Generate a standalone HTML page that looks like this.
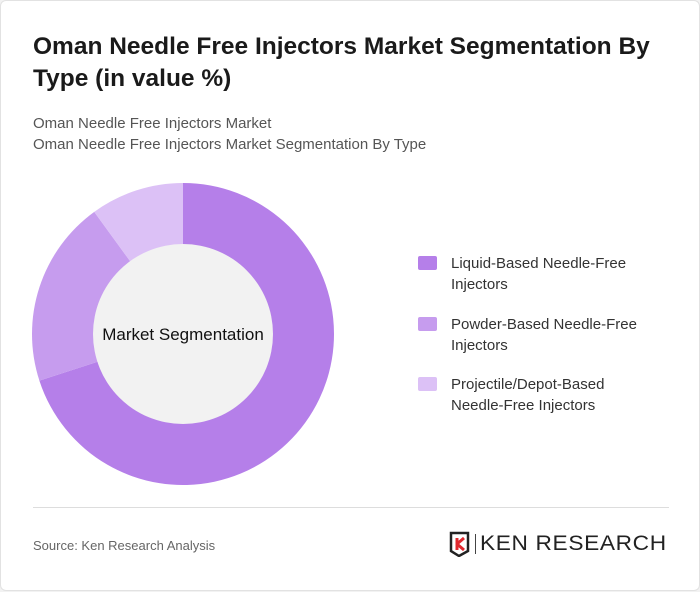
<!DOCTYPE html>
<html><head><meta charset="utf-8"><style>
body{margin:0;background:#f2f2f2;font-family:"Liberation Sans",sans-serif;}
#card{position:absolute;left:0;top:0;width:698px;height:589px;background:#fff;border:1px solid #e2e2e2;border-radius:6px;}
h1{position:absolute;left:32px;top:30px;margin:0;font-size:24.5px;line-height:32px;font-weight:bold;color:#1a1a1a;width:650px;}
.sub{position:absolute;left:32px;font-size:15px;color:#555;}
.leg{position:absolute;left:418px;font-size:15px;line-height:21px;color:#333;}
.sw{position:absolute;left:-1px;top:3px;width:19px;height:14px;border-radius:2px;}
.leg span.t{position:absolute;left:32px;top:0;width:200px;}
</style></head><body>
<div id="card">
<h1>Oman Needle Free Injectors Market Segmentation By Type (in value %)</h1>
<div class="sub" style="top:114px">Oman Needle Free Injectors Market</div>
<div class="sub" style="top:135px">Oman Needle Free Injectors Market Segmentation By Type</div>
<svg id="donut" width="700" height="591" style="position:absolute;left:0;top:0"></svg>
<div class="leg" style="top:252px"><div class="sw" style="background:#b57fe9"></div><span class="t">Liquid-Based Needle-Free Injectors</span></div>
<div class="leg" style="top:313px"><div class="sw" style="background:#c69cee"></div><span class="t">Powder-Based Needle-Free Injectors</span></div>
<div class="leg" style="top:373px"><div class="sw" style="background:#dcc1f6"></div><span class="t">Projectile/Depot-Based Needle-Free Injectors</span></div>
<div style="position:absolute;left:32px;top:506px;width:636px;height:1px;background:#ddd"></div>
<div class="sub" style="top:537px;font-size:13px;color:#666">Source: Ken Research Analysis</div>
<div style="position:absolute;left:448px;top:530px;height:26px">
<svg width="22" height="26" style="position:absolute;left:0;top:0"><path d="M2 2H19V20L10 25L2 20Z" fill="none" stroke="#222" stroke-width="2.5"/><path d="M8 7V19M8 13L15 7M8 13L15 19" stroke="#e0282e" stroke-width="3" fill="none"/></svg>
<div style="position:absolute;left:26px;top:3px;width:1px;height:20px;background:#444"></div>
<div style="position:absolute;left:31px;top:1px;font-size:21px;letter-spacing:0.6px;color:#222;white-space:nowrap;transform:scaleX(1.08);transform-origin:left">KEN RESEARCH</div>
</div>
</div>
<script>
const categories=["Liquid-Based Needle-Free Injectors","Powder-Based Needle-Free Injectors","Projectile/Depot-Based Needle-Free Injectors"];
const values=[70,20,10];
const colors=["#b57fe9","#c69cee","#dcc1f6"];
const svg=document.getElementById('donut');
const NS="http://www.w3.org/2000/svg";
const cx=182,cy=333,R=151,r=90;
const total=values.reduce((a,b)=>a+b,0);
function pt(a,rad){return [cx+rad*Math.sin(a),cy-rad*Math.cos(a)];}
let acc=0;
values.forEach((v,i)=>{
const a0=acc/total*2*Math.PI;acc+=v;const a1=acc/total*2*Math.PI;
const large=(a1-a0)>Math.PI?1:0;
const p0=pt(a0,R),p1=pt(a1,R);
const p=document.createElementNS(NS,'path');
p.setAttribute('d',`M${cx},${cy}L${p0[0]},${p0[1]}A${R},${R} 0 ${large} 1 ${p1[0]},${p1[1]}Z`);
p.setAttribute('fill',colors[i]);


svg.appendChild(p);
});
const c=document.createElementNS(NS,'circle');
c.setAttribute('cx',cx);c.setAttribute('cy',cy);c.setAttribute('r',r);c.setAttribute('fill','#f2f2f2');


svg.appendChild(c);
const t=document.createElementNS(NS,'text');
t.setAttribute('x',cx);t.setAttribute('y',cy+6);t.setAttribute('text-anchor','middle');
t.setAttribute('font-size','17');t.setAttribute('fill','#111');t.setAttribute('font-family','Liberation Sans, sans-serif');
t.textContent='Market Segmentation';


svg.appendChild(t);
</script>
</body></html>
